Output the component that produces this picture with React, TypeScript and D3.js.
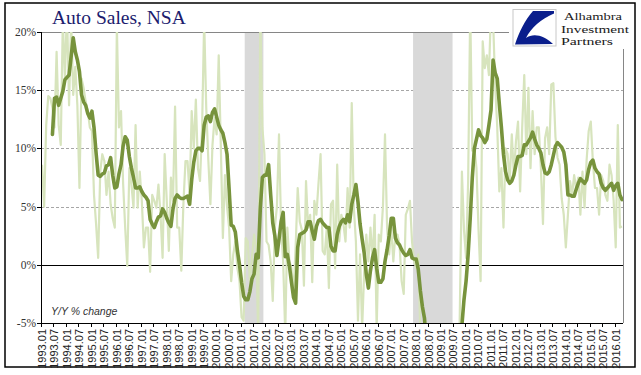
import React from "react";
import * as d3 from "d3";

// ---- data -------------------------------------------------------------
const startYear = 1993;
const nMonths = 280; // 1993.01 .. 2016.04
const monthLabels: string[] = Array.from({ length: nMonths }, (_, i) => {
  const y = startYear + Math.floor(i / 12);
  const m = (i % 12) + 1;
  return `${y}.${m < 10 ? "0" + m : m}`;
});
const tickEvery = 6;

const yTicks = [-5, 0, 5, 10, 15, 20];
const gridTicks = [5, 10, 15];

// monthly Y/Y % change (light series)
const monthlyYoY: number[] = [
  8.6, 5.0, 12.0, 14.5, 14.3, 13.5, 11.8, 18.3, 12.0, 10.3,
  21.0, 16.0, 22.0, 13.7, 21.0, 14.6, 17.0, 13.7, 6.6, 16.0,
  15.2, 14.0, 13.2, 11.8, 11.5, 6.0, 3.5, 0.6, 8.0, 9.5,
  8.9, 6.0, 8.0, 5.2, 4.0, 3.2, 20.5, 11.8, 13.2, 7.0,
  3.2, -0.1, 8.3, 6.9, 4.9, 12.0, 4.9, 8.0, 5.5, 1.5,
  3.2, 3.2, -0.6, 6.0, 5.5, 4.9, 6.9, 4.3, 0.6, 9.5,
  5.5, 1.2, 7.5, 5.5, 13.6, 3.2, 3.2, -0.5, 5.2, 8.9,
  8.9, 6.0, 13.2, 10.0, 14.2, 8.3, 7.2, 11.8, 21.0, 13.5,
  9.0, 5.2, 10.3, 12.6, 11.2, 18.0, 10.3, 2.3, 7.7, 5.0,
  3.2, -1.4, 0.9, 2.0, -0.3, -1.4, -4.5, -4.8, 2.3, 2.0,
  -1.4, 0.6, 2.6, 1.5, -6.0, 22.0, 11.8, 9.5, 2.0, 1.7,
  0.3, -3.1, 3.2, 5.0, 11.2, 3.2, 0.3, -6.0, 3.2, 0.3,
  -0.3, -2.5, 1.5, 6.6, 3.7, 3.0, -1.8, 7.2, 3.2, 4.3,
  -1.5, 5.5, 4.3, 7.0, 9.5, 1.2, 0.9, 3.2, -2.0, 5.2,
  5.5, -0.3, 8.6, 2.0, 4.3, 3.5, 2.0, 6.6, 3.2, 13.9,
  4.9, 2.0, -4.8, 0.9, -5.5, -0.5, 2.6, 0.3, 3.2, 0.3,
  4.3, -5.5, 2.6, 2.0, 5.0, 11.2, 3.2, 0.9, 3.2, 0.3,
  2.6, 2.6, 1.7, -1.4, -2.5, 4.3, 4.8, 5.5, 2.0, 0.3,
  -0.3, 0.9, -6.0, -8.0, -10.0, -12.0, -15.0, -12.0, -20.0, -25.0,
  -18.0, -30.0, -35.0, -40.0, -38.0, -42.0, -35.0, -38.0, -30.0, -15.0,
  -15.0, -4.0, 8.0, 3.0, 0.6, 7.2, 22.0, 9.8, 10.0, 8.3,
  3.0, -1.4, 19.2, 16.9, 18.0, 16.3, 22.0, 21.0, 15.5, 11.8,
  6.3, 8.3, 3.2, 10.0, 9.5, 7.2, 11.2, 7.7, 10.6, 12.3,
  6.3, 11.8, 16.3, 9.5, 15.2, 8.3, 13.2, 9.5, 11.8, 11.8,
  8.3, 3.5, 10.9, 11.8, 9.5, 15.5, 15.6, 11.0, 9.2, 8.6,
  5.7, 4.3, 1.5, 4.3, 7.2, 6.0, 7.7, 6.5, 7.5, 4.3,
  8.0, 4.9, 9.0, 11.5, 12.3, 8.9, 6.6, 6.6, 4.3, 7.7,
  7.2, 6.0, 5.5, 8.6, 7.7, 5.5, 1.5, 12.0, 3.2, 3.3,
];

// smoothed series (dark line)
const smoothedYoY: (number | null)[] = [
  null, null, null, null, null, 11.2, 14.3, 14.4, 13.7, 14.3,
  14.9, 15.9, 16.1, 16.3, 17.9, 19.5, 18.3, 17.6, 16.6, 14.6,
  14.0, 13.7, 13.0, 12.6, 13.2, 11.8, 9.6, 7.7, 7.6, 7.8,
  7.9, 8.5, 8.6, 9.2, 7.7, 6.6, 6.7, 7.8, 8.6, 10.2,
  11.0, 10.7, 9.3, 8.3, 7.5, 6.6, 6.6, 6.7, 6.3, 6.0,
  5.8, 5.5, 3.9, 3.5, 3.2, 3.7, 4.1, 4.2, 4.8, 4.5,
  4.0, 3.6, 3.3, 4.8, 5.7, 6.0, 5.8, 5.7, 5.7, 5.8,
  5.9, 5.2, 7.3, 8.8, 9.8, 10.0, 10.0, 9.8, 12.0, 12.7,
  12.8, 12.3, 13.1, 13.4, 12.7, 12.0, 11.6, 11.3, 10.5, 9.5,
  6.5, 3.4, 3.3, 2.8, 1.2, 0.0, -1.5, -2.7, -3.0, -3.0,
  -2.3, -1.2, -0.8, 0.9, 0.6, 4.8, 7.5, 7.7, 7.7, 8.6,
  6.0, 3.6, 2.5, 0.8, 2.2, 3.7, 4.5, 0.7, 0.9, -0.1,
  -1.5, -2.8, -3.3, 1.5, 2.6, 2.7, 2.8, 3.0, 3.7, 3.7,
  2.9, 2.2, 3.3, 3.8, 3.9, 3.6, 3.4, 3.2, 3.2, 1.6,
  1.2, 1.2, 2.6, 3.3, 3.7, 3.9, 3.6, 4.3, 3.7, 5.2,
  6.0, 6.9, 5.4, 3.5, 2.2, 1.0, -0.8, -2.0, -0.5, 0.6,
  1.3, -0.3, -1.5, -1.5, -1.2, 0.3, 1.3, 2.5, 4.0, 4.0,
  2.3, 1.9, 1.7, 1.3, 1.0, 0.8, 0.9, 1.3, 0.6, 0.5,
  0.5, -0.4, -2.2, -3.6, -4.6, -7, -10, -14, -18, -22,
  -26, -30, -32, -33, -34, -33, -30, -27, -24, -20,
  -15, -10, -5.2, -3.0, -1.4, 0.9, 4.0, 7.5, 10.0, 10.8,
  11.6, 11.1, 10.9, 10.5, 10.8, 12.0, 13.3, 17.6, 16.5, 16.0,
  13.8, 11.8, 9.5, 8.0, 7.3, 7.0, 7.2, 7.7, 8.6, 9.3,
  9.3, 9.4, 10.3, 10.3, 10.6, 10.9, 11.4, 10.8, 10.3, 10.0,
  9.6, 8.6, 7.9, 7.8, 8.0, 8.6, 9.4, 10.2, 10.5, 10.3,
  10.1, 9.7, 8.6, 6.0, 6.0, 5.9, 5.9, 6.5, 7.0, 7.4,
  7.2, 7.0, 7.3, 8.2, 8.8, 9.0, 8.3, 8.0, 7.8, 7.0,
  6.6, 6.4, 6.6, 6.8, 7.0, 6.4, 6.8, 7.0, 6.0, 5.6,
];

// recessions (first and last month, inclusive)
const recessionStart = ["2001.03", "2007.12"];
const recessionEnd = ["2001.11", "2009.06"];

const title = "Auto Sales, NSA";
const axisNote = "Y/Y % change";
const logoLines = ["Alhambra", "Investment", "Partners"];

// ---- layout -----------------------------------------------------------
const W = 641;
const H = 375;
const L = 41;
const R = 623;
const T = 32;
const B = 323;

export default function App() {
  const x = d3.scaleBand<string>().domain(monthLabels).range([L, R]).padding(0);
  const bw = x.bandwidth();
  const cx = (i: number) => (x(monthLabels[i]) as number) + bw / 2;
  const y = d3.scaleLinear().domain([-5, 20]).range([B, T]);

  const lightLine = d3
    .line<number>()
    .x((_, i) => cx(i))
    .y((d) => y(d));
  const darkLine = d3
    .line<number | null>()
    .defined((d) => d != null)
    .x((_, i) => cx(i))
    .y((d) => y(d as number));

  const tickIdx = monthLabels.map((_, i) => i).filter((i) => i % tickEvery === 0);

  const logoX = [564, 561, 561];
  const logoW = [58, 68, 52];

  return (
    <svg
      width={W}
      height={H}
      style={{ position: "absolute", left: 0, top: 0, background: "#fff" }}
    >
      <defs>
        <clipPath id="plotClip">
          <rect x={L} y={T} width={R - L} height={B - T} />
        </clipPath>
      </defs>
      <rect x={0} y={0} width={W} height={H} fill="#fff" />
      {/* outer frame */}
      <rect x={5} y={3} width={630} height={364} fill="none" stroke="#000" strokeWidth={1.5} />

      {/* grid */}
      {gridTicks.map((t) => (
        <line
          key={t}
          x1={L}
          x2={R}
          y1={Math.round(y(t)) + 0.5}
          y2={Math.round(y(t)) + 0.5}
          stroke="#a6a6a6"
          strokeDasharray="3,2"
          strokeWidth={1}
        />
      ))}

      {/* recession shading */}
      {recessionStart.map((s, k) => {
        const x0 = x(s) as number;
        const x1 = (x(recessionEnd[k]) as number) + bw;
        return <rect key={s} x={x0} y={T} width={x1 - x0} height={B - T} fill="#d9d9d9" />;
      })}

      {/* plot border (top/right) */}
      <line x1={L} x2={R} y1={T + 0.5} y2={T + 0.5} stroke="#868686" />
      <line x1={R + 0.5} x2={R + 0.5} y1={T} y2={B} stroke="#868686" />

      {/* zero line */}
      <line x1={L} x2={R} y1={Math.round(y(0)) + 0.5} y2={Math.round(y(0)) + 0.5} stroke="#000" strokeWidth={1.2} />

      <g clipPath="url(#plotClip)">
        <path d={lightLine(monthlyYoY) || ""} fill="none" stroke="#d7e4bd" strokeWidth={2.2} strokeLinejoin="round" />
        <path d={darkLine(smoothedYoY) || ""} fill="none" stroke="#77933c" strokeWidth={3.6} strokeLinejoin="round" strokeLinecap="round" />
      </g>

      {/* left axis */}
      <line x1={L + 0.5} x2={L + 0.5} y1={T} y2={B} stroke="#000" />
      {yTicks.map((t) => (
        <g key={t}>
          <line x1={L - 4} x2={L} y1={Math.round(y(t)) + 0.5} y2={Math.round(y(t)) + 0.5} stroke="#000" />
          <text
            x={L - 5}
            y={y(t)}
            dy="0.35em"
            textAnchor="end"
            fontFamily="Liberation Serif, serif"
            fontSize={11.5}
            fill="#333"
          >
            {`${t}%`}
          </text>
        </g>
      ))}

      {/* bottom axis */}
      <line x1={L} x2={R} y1={B + 0.5} y2={B + 0.5} stroke="#000" />
      {tickIdx.map((i) => {
        const tx = Math.round(x(monthLabels[i]) as number) + 0.5;
        return <line key={"t" + i} x1={tx} x2={tx} y1={B} y2={B + 4} stroke="#000" />;
      })}
      {tickIdx.map((i) => (
        <text
          key={"l" + i}
          transform={`translate(${cx(i)},${B + 6}) rotate(-90)`}
          dy="0.35em"
          textAnchor="end"
          fontFamily="Liberation Sans Narrow, Liberation Sans, sans-serif"
          fontSize={11}
          fill="#222"
        >
          {monthLabels[i]}
        </text>
      ))}

      <text
        x={51}
        y={315}
        fontFamily="Liberation Sans, sans-serif"
        fontStyle="italic"
        fontSize={10.5}
        fill="#333"
      >
        {axisNote}
      </text>

      {/* title */}
      <text x={52} y={24} fontFamily="Liberation Serif, serif" fontSize={19.5} fill="#1c1c6e">
        {title}
      </text>

      {/* logo */}
      <rect x={509} y={5} width={125} height={44} fill="#fff" />
      <rect x={513} y={9.5} width={43} height={36.5} fill="#fff" stroke="#c8c8c8" strokeWidth={1} />
      <path
        d="M533,11 L554,11 L554,13.5 C541,19 531,28 526,38 C533,33 544,35 553,44 L515,44.5 C519,32 525,20 533,11 Z"
        fill="#0a1e8c"
      />
      {logoLines.map((s, k) => (
        <text
          key={s}
          x={logoX[k]}
          y={20 + k * 12.5}
          fontFamily="Liberation Serif, serif"
          fontSize={11}
          textLength={logoW[k]}
          lengthAdjust="spacingAndGlyphs"
          fill="#1a1a1a"
        >
          {s}
        </text>
      ))}
    </svg>
  );
}
